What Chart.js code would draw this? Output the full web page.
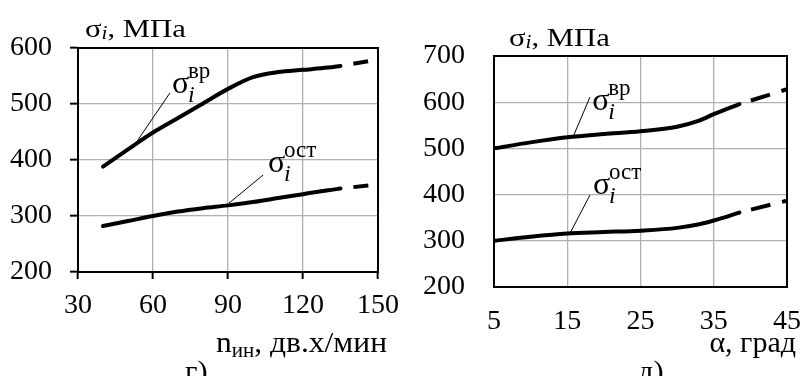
<!DOCTYPE html>
<html><head><meta charset="utf-8">
<script src="https://cdn.jsdelivr.net/npm/chart.js@4/dist/chart.umd.min.js"></script>
<style>
html,body{margin:0;padding:0;background:#fff;}
#wrap{position:relative;width:800px;height:376px;overflow:hidden;background:#fff;}
.c{position:absolute;top:0;width:400px;height:376px;}
</style></head><body>
<div id="wrap">
<div class="c" style="left:0"><canvas id="cL" width="400" height="376"></canvas></div>
<div class="c" style="left:400px"><canvas id="cR" width="400" height="376"></canvas></div>
</div>
<script>
// ---- Panel г): stress vs. tool speed n (double strokes / min)
const speedN        = [40, 50, 60, 70, 80, 90, 100, 110, 120, 130, 135];
const sigmaVrN      = [388, 419, 449, 475, 501, 527, 548, 557, 561, 565, 568];
const sigmaOstN     = [282, 291, 300, 308, 314, 319, 325, 332, 339, 346, 349];
const speedNExt     = [135, 147];
const sigmaVrNExt   = [568, 577];
const sigmaOstNExt  = [349, 355];
const speedTicks    = [30, 60, 90, 120, 150];
const stressTicksN  = [200, 300, 400, 500, 600];

// ---- Panel д): stress vs. angle alpha (deg)
const angleA        = [5, 10, 15, 20, 25, 30, 33, 35, 38.5];
const sigmaVrA      = [500, 513, 524, 531, 537, 547, 560, 574, 596];
const sigmaOstA     = [300, 309, 316, 319, 322, 328, 336, 344, 361];
const angleAExt     = [38.5, 45];
const sigmaVrAExt   = [596, 628];
const sigmaOstAExt  = [361, 387];
const angleTicks    = [5, 15, 25, 35, 45];
const stressTicksA  = [200, 300, 400, 500, 600, 700];

const FONT = '"Liberation Serif", "Times New Roman", serif';
const TICK_SIZE = 28;
const pts = (xs, ys) => xs.map((x, i) => ({x, y: ys[i]}));

function solid(xs, ys) {
  return {data: pts(xs, ys), borderColor: '#000', borderWidth: 4, pointRadius: 0,
          cubicInterpolationMode: 'monotone', fill: false, borderCapStyle: 'round'};
}
function dashed(xs, ys, dash) {
  return {data: pts(xs, ys), borderColor: '#000', borderWidth: 4, pointRadius: 0,
          borderDash: dash, borderDashOffset: dash[0], fill: false, borderCapStyle: 'butt'};
}

// draw a run of text pieces starting at (x, y), each piece placed after the previous,
// with an optional horizontal stretch sx
function drawRun(ctx, parts, x, y, sx, align) {
  let total = 0;
  for (const p of parts) { ctx.font = p.font; total += ctx.measureText(p.t).width; }
  ctx.save();
  ctx.translate(align === 'right' ? x - total * sx : x, y);
  ctx.scale(sx, 1);
  ctx.textAlign = 'left';
  let cx = 0;
  for (const p of parts) {
    ctx.font = p.font;
    ctx.fillText(p.t, cx, p.dy || 0);
    cx += ctx.measureText(p.t).width;
  }
  ctx.restore();
}

const decor = {
  id: 'decor',
  afterDatasetsDraw(chart, args, o) {
    const {ctx, chartArea: a, scales: {x, y}} = chart;
    ctx.save();
    ctx.strokeStyle = '#000';
    ctx.lineWidth = 2;
    ctx.strokeRect(a.left, a.top, a.right - a.left, a.bottom - a.top);
    ctx.fillStyle = '#000';
    ctx.textBaseline = 'alphabetic';
    for (const L of o.labels) {
      ctx.lineWidth = 1;
      ctx.beginPath();
      ctx.moveTo(x.getPixelForValue(L.from[0]), y.getPixelForValue(L.from[1]));
      ctx.lineTo(x.getPixelForValue(L.to[0]), y.getPixelForValue(L.to[1]));
      ctx.stroke();
      const tx = x.getPixelForValue(L.at[0]), ty = y.getPixelForValue(L.at[1]);
      ctx.font = '32px ' + FONT; ctx.textAlign = 'left';
      ctx.fillText('σ', tx, ty);
      ctx.font = '23px ' + FONT; ctx.fillText(L.sup, tx + 16, ty - 15);
      ctx.font = 'italic 24px ' + FONT; ctx.fillText('i', tx + 16, ty + 9);
    }
    // y-axis title σi, МПа
    drawRun(ctx, [
      {t: 'σ', font: '26px ' + FONT},
      {t: 'i', font: 'italic 18px ' + FONT, dy: 2},
      {t: ', МПа', font: '26px ' + FONT}
    ], a.left + o.yTitleDx, a.top - o.yTitleDy, 1.18, 'left');
    // x-axis title, right aligned
    const xt = [{t: o.xTitleMain, font: '30px ' + FONT}];
    if (o.xTitleSub) xt.push({t: o.xTitleSub, font: '20px ' + FONT, dy: 5});
    xt.push({t: o.xTitleRest, font: '30px ' + FONT});
    drawRun(ctx, xt, a.right + 9, 352, o.xTitleSx, 'right');
    // panel label
    drawRun(ctx, [{t: o.panel, font: '29px ' + FONT}], o.panelX, 381, 1.05, 'left');
    ctx.restore();
  }
};

function makeChart(id, cfg) {
  return new Chart(document.getElementById(id), {
    type: 'line',
    data: {datasets: cfg.datasets},
    plugins: [decor],
    options: {
      responsive: false, animation: false, devicePixelRatio: 1,
      layout: {padding: {top: cfg.top, right: cfg.right, left: 0, bottom: 0}},
      plugins: {legend: {display: false}, tooltip: {enabled: false}, decor: cfg.decor},
      scales: {
        x: {
          type: 'linear', min: cfg.xTicks[0], max: cfg.xTicks[cfg.xTicks.length - 1],
          afterBuildTicks: s => { s.ticks = cfg.xTicks.map(v => ({value: v})); },
          ticks: {font: {family: FONT, size: TICK_SIZE}, color: '#000', padding: cfg.xPad, maxRotation: 0, autoSkip: false},
          grid: {color: '#b0b0b0', lineWidth: 1.3, drawTicks: cfg.ticksOn, tickLength: 7, tickColor: '#000', tickWidth: 2},
          border: {color: '#000', width: 2},
          afterFit: s => { s.height = cfg.xH; s.paddingLeft = 0; s.paddingRight = 0; }
        },
        y: {
          min: cfg.yTicks[0], max: cfg.yTicks[cfg.yTicks.length - 1],
          afterBuildTicks: s => { s.ticks = cfg.yTicks.map(v => ({value: v})); },
          ticks: {font: {family: FONT, size: TICK_SIZE}, color: '#000', padding: cfg.yPad},
          grid: {color: '#b0b0b0', lineWidth: 1.3, drawTicks: cfg.ticksOn, tickLength: 8, tickColor: '#000', tickWidth: 2},
          border: {color: '#000', width: 2},
          afterFit: s => { s.width = cfg.yW; s.paddingTop = 0; s.paddingBottom = 0; }
        }
      }
    }
  });
}

makeChart('cL', {
  datasets: [solid(speedN, sigmaVrN), dashed(speedNExt, sigmaVrNExt, [15, 13]),
             solid(speedN, sigmaOstN), dashed(speedNExt, sigmaOstNExt, [15, 13])],
  xTicks: speedTicks, yTicks: stressTicksN,
  top: 48, right: 22, xH: 104, yW: 78, xPad: 10, yPad: 18, ticksOn: true,
  decor: {
    labels: [
      {sup: 'вр', at: [67.6, 519], from: [66.8, 520], to: [54, 436]},
      {sup: 'ост', at: [106, 378], from: [104, 373], to: [90.4, 323]}
    ],
    yTitleDx: 7, yTitleDy: 11,
    xTitleMain: 'n', xTitleSub: 'ин', xTitleRest: ', дв.х/мин', xTitleSx: 1.05,
    panel: 'г)', panelX: 185
  }
});

makeChart('cR', {
  datasets: [solid(angleA, sigmaVrA), dashed(angleAExt, sigmaVrAExt, [20, 12]),
             solid(angleA, sigmaOstA), dashed(angleAExt, sigmaOstAExt, [20, 12])],
  xTicks: angleTicks, yTicks: stressTicksA,
  top: 56, right: 13, xH: 89, yW: 94, xPad: 18, yPad: 29, ticksOn: false,
  decor: {
    labels: [
      {sup: 'вр', at: [18.4, 583], from: [18.1, 611], to: [15.9, 529]},
      {sup: 'ост', at: [18.5, 401], from: [18.1, 399], to: [15.4, 317]}
    ],
    yTitleDx: 15, yTitleDy: 10,
    xTitleMain: 'α', xTitleSub: '', xTitleRest: ', град', xTitleSx: 1.0,
    panel: 'д)', panelX: 238
  }
});
</script>
</body></html>
